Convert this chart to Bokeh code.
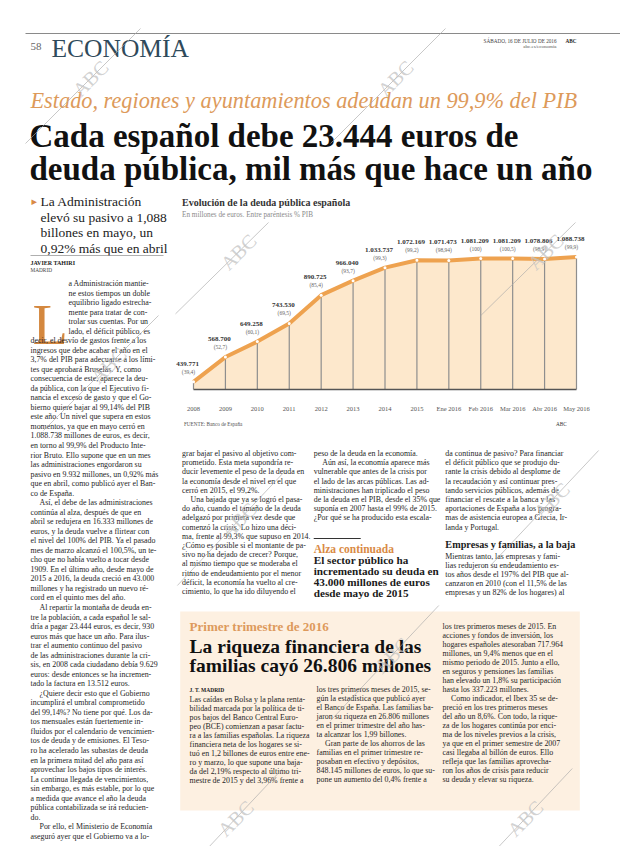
import math
from bokeh.plotting import figure
from bokeh.layouts import column, row
from bokeh.models import Range1d, FixedTicker
from bokeh.embed import file_html
from bokeh.resources import INLINE
from bokeh.core.properties import value

# ---------------- chart data ----------------
periods = ["2008", "2009", "2010", "2011", "2012", "2013", "2014", "2015",
           "Ene 2016", "Feb 2016", "Mar 2016", "Abr 2016", "May 2016"]
debt_millions = [439771, 568700, 649258, 743530, 890725, 966040, 1033737,
                 1072169, 1071473, 1081209, 1081209, 1078806, 1088738]
debt_pct_gdp = ["39,4", "52,7", "60,1", "69,5", "85,4", "93,7", "99,3",
                "99,2", "98,94", "100", "100,5", "98,9", "99,9"]

# ---------------- page texts ----------------
kicker = "Estado, regiones y ayuntamientos adeudan un 99,9% del PIB"
headline = ["Cada español debe 23.444 euros de",
            "deuda pública, mil más que hace un año"]
deck = ["La Administración", "elevó su pasivo a 1,088",
        "billones en mayo, un", "0,92% más que en abril"]
left_body = [
    "a Administración mantie-", "ne estos tiempos un doble", "equilibrio ligado estrecha-",
    "mente para tratar de con-", "trolar sus cuentas. Por un", "lado, el déficit público, es",
    "decir, el desvío de gastos frente a los", "ingresos que debe acabar el año en el",
    "3,7% del PIB para adecuarse a los lími-", "tes que aprobará Bruselas. Y, como",
    "consecuencia de este, aparece la deu-", "da pública, con la que el Ejecutivo fi-",
    "nancia el exceso de gasto y que el Go-", "bierno quiere bajar al 99,14% del PIB",
    "este año. Un nivel que supera en estos", "momentos, ya que en mayo cerró en",
    "1.088.738 millones de euros, es decir,", "en torno al 99,9% del Producto Inte-",
    "rior Bruto. Ello supone que en un mes", "las administraciones engordaron su",
    "pasivo en 9.932 millones, un 0,92% más", "que en abril, como publicó ayer el Ban-",
    "co de España.", ">Así, el debe de las administraciones",
    "continúa al alza, después de que en", "abril se redujera en 16.333 millones de",
    "euros, y la deuda vuelve a flirtear con", "el nivel del 100% del PIB. Ya el pasado",
    "mes de marzo alcanzó el 100,5%, un te-", "cho que no había vuelto a tocar desde",
    "1909. En el último año, desde mayo de", "2015 a 2016, la deuda creció en 43.000",
    "millones y ha registrado un nuevo ré-", "cord en el quinto mes del año.",
    ">Al repartir la montaña de deuda en-", "tre la población, a cada español le sal-",
    "dría a pagar 23.444 euros, es decir, 930", "euros más que hace un año. Para ilus-",
    "trar el aumento continuo del pasivo", "de las administraciones durante la cri-",
    "sis, en 2008 cada ciudadano debía 9.629", "euros: desde entonces se ha incremen-",
    "tado la factura en 13.512 euros.", ">¿Quiere decir esto que el Gobierno",
    "incumplirá el umbral comprometido", "del 99,14%? No tiene por qué. Los da-",
    "tos mensuales están fuertemente in-", "fluidos por el calendario de vencimien-",
    "tos de deuda y de emisiones. El Teso-", "ro ha acelerado las subastas de deuda",
    "en la primera mitad del año para así", "aprovechar los bajos tipos de interés.",
    "La continua llegada de vencimientos,", "sin embargo, es más estable, por lo que",
    "a medida que avance el año la deuda", "pública contabilizada se irá reducien-",
    "do.", ">Por ello, el Ministerio de Economía", "aseguró ayer que el Gobierno va a lo-"]
col_a = ["grar bajar el pasivo al objetivo com-", "prometido. Esta meta supondría re-",
         "ducir levemente el peso de la deuda en", "la economía desde el nivel en el que",
         "cerró en 2015, el 99,2%.", ">Una bajada que ya se logró el pasa-",
         "do año, cuando el tamaño de la deuda", "adelgazó por primera vez desde que",
         "comenzó la crisis. Lo hizo una déci-", "ma, frente al 99,3% que supuso en 2014.",
         "¿Cómo es posible si el montante de pa-", "sivo no ha dejado de crecer? Porque,",
         "al mismo tiempo que se moderaba el", "ritmo de endeudamiento por el menor",
         "déficit, la economía ha vuelto al cre-", "cimiento, lo que ha ido diluyendo el"]
col_b = ["peso de la deuda en la economía.", ">Aún así, la economía aparece más",
         "vulnerable que antes de la crisis por", "el lado de las arcas públicas. Las ad-",
         "ministraciones han triplicado el peso", "de la deuda en el PIB, desde el 35% que",
         "suponía en 2007 hasta el 99% de 2015.", "¿Por qué se ha producido esta escala-"]
highlight = ["El sector público ha", "incrementado su deuda en",
             "43.000 millones de euros", "desde mayo de 2015"]
col_c = ["da continua de pasivo? Para financiar", "el déficit público que se produjo du-",
         "rante la crisis debido al desplome de", "la recaudación y así continuar pres-",
         "tando servicios públicos, además de", "financiar el rescate a la banca y las",
         "aportaciones de España a los progra-", "mas de asistencia europea a Grecia, Ir-",
         "landa y Portugal."]
col_c2 = ["Mientras tanto, las empresas y fami-", "lias redujeron su endeudamiento es-",
          "tos años desde el 197% del PIB que al-", "canzaron en 2010 (con el 11,5% de las",
          "empresas y un 82% de los hogares) al"]
box_title = ["La riqueza financiera de las", "familias cayó 26.806 millones"]
box_1 = ["Las caídas en Bolsa y la plana renta-", "bilidad marcada por la política de ti-",
         "pos bajos del Banco Central Euro-", "peo (BCE) comienzan a pasar factu-",
         "ra a las familias españolas. La riqueza", "financiera neta de los hogares se si-",
         "tuó en 1,2 billones de euros entre ene-", "ro y marzo, lo que supone una baja-",
         "da del 2,19% respecto al último tri-", "mestre de 2015 y del 3,96% frente a"]
box_2 = ["los tres primeros meses de 2015, se-", "gún la estadística que publicó ayer",
         "el Banco de España. Las familias ba-", "jaron su riqueza en 26.806 millones",
         "en el primer trimestre del año has-", "ta alcanzar los 1,99 billones.",
         ">Gran parte de los ahorros de las", "familias en el primer trimestre re-",
         "posaban en efectivo y depósitos,", "848.145 millones de euros, lo que su-",
         "pone un aumento del 0,4% frente a"]
box_3 = ["los tres primeros meses de 2015. En", "acciones y fondos de inversión, los",
         "hogares españoles atesoraban 717.964", "millones, un 9,4% menos que en el",
         "mismo periodo de 2015. Junto a ello,", "en seguros y pensiones las familias",
         "han elevado un 1,8% su participación", "hasta los 337.223 millones.",
         ">Como indicador, el Ibex 35 se de-", "preció en los tres primeros meses",
         "del año un 8,6%. Con todo, la rique-", "za de los hogares continúa por enci-",
         "ma de los niveles previos a la crisis,", "ya que en el primer semestre de 2007",
         "casi llegaba al billón de euros. Ello", "refleja que las familias aprovecha-",
         "ron los años de crisis para reducir", "su deuda y elevar su riqueza."]

SERIF = "Liberation Serif"
ORANGE = "#d98a45"
INK = "#262626"


def page_fig(x0, y0, x1, y1):
    p = figure(width=x1 - x0, height=y1 - y0, x_range=Range1d(x0, x1),
               y_range=Range1d(y1, y0), output_backend="svg", toolbar_location=None,
               x_axis_type=None, y_axis_type=None, min_border=0)
    p.outline_line_color = None
    p.background_fill_color = "white"
    p.border_fill_color = "white"
    return p


def txt(p, x, y, s, size, color=INK, style="normal", align="left", font=SERIF):
    p.text(x=[x], y=[y], text=[s], text_font=value(font), text_font_size=f"{size}px",
           text_color=color, text_font_style=style, text_align=align,
           text_baseline="middle")


def block(p, x, y0, pitch, lines, size=7.9, color=INK, style="normal", indent=9):
    xs, ys, ts = [], [], []
    for i, ln in enumerate(lines):
        if ln.startswith(">"):
            xs.append(x + indent)
            ts.append(ln[1:])
        else:
            xs.append(x)
            ts.append(ln)
        ys.append(y0 + i * pitch)
    p.text(x=xs, y=ys, text=ts, text_font=value(SERIF), text_font_size=f"{size}px",
           text_color=color, text_font_style=style, text_align="left",
           text_baseline="middle")


def watermark(p, cx, cy, conv=None):
    pts = [(cx - 65, cy + 65), (cx + 50, cy - 50), (cx, cy)]
    if conv is not None:
        pts = [conv(a, b) for a, b in pts]
    (ax, ay), (bx, by), (tx, ty) = pts
    p.segment(x0=[ax], y0=[ay], x1=[bx], y1=[by],
              line_color="#a8a8a8", line_width=0.8, line_alpha=0.8)
    p.text(x=[tx], y=[ty], text=["ABC"], angle=math.pi / 4, text_font=value(SERIF),
           text_font_size="20px", text_color="#c4c4c4", text_alpha=0.75,
           text_align="center", text_baseline="middle")


# ---------------- header ----------------
hd = page_fig(0, 0, 620, 192)
hd.segment(x0=[25], y0=[33], x1=[620], y1=[33], line_color="#8a8a8a", line_width=1)
txt(hd, 30, 46, "58", 11, "#666")
txt(hd, 51, 48, "ECONOMÍA", 25.5, "#2f4a5b")
txt(hd, 556, 40, "SÁBADO, 16 DE JULIO DE 2016", 5.2, "#444", align="right")
txt(hd, 576, 40, "ABC", 5.2, "#222", style="bold", align="right")
txt(hd, 556, 46, "abc.es/economia", 5, "#555", align="right")
txt(hd, 30, 100, kicker, 22.3, "#dd9a5a", style="italic")
txt(hd, 29, 135, headline[0], 33, "#111", style="bold")
txt(hd, 29, 168, headline[1], 33, "#111", style="bold")
watermark(hd, 90, 78)
watermark(hd, 395, 78)

# ---------------- left column ----------------
lf = page_fig(0, 192, 168, 846)
txt(lf, 31, 201, "▸", 11, ORANGE, font="DejaVu Sans")
block(lf, 40, 201, 15.5, deck, size=13.5, color="#222")
lf.segment(x0=[30], y0=[255], x1=[163], y1=[255], line_color="#9a9a9a", line_width=0.8)
txt(lf, 30, 262, "JAVIER TAHIRI", 6, "#222", style="bold")
txt(lf, 30, 269, "MADRID", 5.3, "#444")
lf.text(x=[32], y=[324], text=["L"], text_font=value(SERIF), text_font_size="58px",
        text_color="#d4883f", text_align="left", text_baseline="alphabetic")
block(lf, 68, 283, 9.53, left_body[:6])
block(lf, 30, 283 + 6 * 9.53, 9.53, left_body[6:])
watermark(lf, 108, 365)

# ---------------- chart title ----------------
cth = page_fig(168, 192, 620, 222)
txt(cth, 175, 202, "Evolución de la deuda pública española", 10, "#333", style="bold")
txt(cth, 175, 214, "En millones de euros. Entre paréntesis % PIB", 7.2, "#8a8a8a")

# ---------------- chart ----------------
CH_W, CH_H = 452, 192
BL, BR, BT, BB = 7, 20, 0, 22
idx = list(range(len(periods)))
ch = figure(width=CH_W, height=CH_H, x_range=Range1d(-0.564, 12.752),
            y_range=Range1d(400000, 1268700), output_backend="svg",
            toolbar_location=None, y_axis_type=None, min_border_left=BL,
            min_border_right=BR, min_border_top=BT, min_border_bottom=BB)
ch.outline_line_color = None
ch.grid.visible = False
base = ch.y_range.start
ch.varea(x=idx, y1=[base] * len(idx), y2=debt_millions, fill_color="#fde8cc")
ch.segment(x0=idx, y0=[base] * len(idx), x1=idx, y1=debt_millions,
           line_color="#8e8e8e", line_width=1.2)
ch.line(idx, debt_millions, line_color="#eea24f", line_width=4)
ch.scatter(idx, debt_millions, size=3, fill_color="white", line_color=None)
value_labels = [f"{v:,}".replace(",", ".") for v in debt_millions]
pct_labels = [f"({v})" for v in debt_pct_gdp]
ch.text(idx, debt_millions, text=value_labels, x_offset=-6, y_offset=-18,
        text_font=value(SERIF), text_font_size="7px", text_color="#333",
        text_font_style="bold", text_align="center", text_baseline="middle")
ch.text(idx, debt_millions, text=pct_labels, x_offset=-5, y_offset=-10,
        text_font=value(SERIF), text_font_size="5.5px", text_color="#666",
        text_align="center", text_baseline="middle")
ch.xaxis.ticker = FixedTicker(ticks=idx)
ch.xaxis.major_label_overrides = {i: s for i, s in enumerate(periods)}
ch.xaxis.bounds = (0, len(idx) - 1)
ch.xaxis.axis_line_color = "#555"
ch.xaxis.axis_line_width = 1.5
ch.xaxis.major_tick_line_color = None
ch.xaxis.minor_tick_line_color = None
ch.xaxis.major_label_standoff = 9
ch.xaxis.major_label_text_font = SERIF
ch.xaxis.major_label_text_font_size = "6.5px"
ch.xaxis.major_label_text_color = "#555"

# page-pixel -> chart-data conversion (for the watermarks drawn over the chart)
CH_LEFT, CH_TOP = 168, 222
fx0, fy0 = CH_LEFT + BL, CH_TOP + BT
fw, fh = CH_W - BL - BR, CH_H - BT - BB
xr, yr = ch.x_range, ch.y_range


def to_chart(px, py):
    return (xr.start + (px - fx0) / fw * (xr.end - xr.start),
            yr.end - (py - fy0) / fh * (yr.end - yr.start))


watermark(ch, 238, 252, conv=to_chart)
watermark(ch, 545, 252, conv=to_chart)

# ---------------- chart footer ----------------
cf = page_fig(168, 414, 620, 432)
txt(cf, 177, 423, "FUENTE: Banco de España", 5.2, "#555")
txt(cf, 584, 423, "ABC", 5.2, "#333", align="right")

# ---------------- lower part ----------------
bt = page_fig(168, 432, 620, 846)
block(bt, 175, 453, 9.2, col_a)
block(bt, 315, 453, 9.2, col_b)
bt.segment(x0=[315], y0=[538], x1=[365], y1=[538], line_color="#333", line_width=1)
txt(bt, 315, 548, "Alza continuada", 11.5, ORANGE, style="bold")
block(bt, 315, 559.5, 11, highlight, size=11.2, color="#1a1a1a", style="bold")
block(bt, 455, 453, 9.2, col_c)
txt(bt, 455, 544, "Empresas y familias, a la baja", 10.2, "#1a1a1a", style="bold")
block(bt, 455, 556, 9.1, col_c2)
bt.quad(left=[173], right=[598], top=[611], bottom=[810], fill_color="#fdf0e1",
        line_color=None)
txt(bt, 183, 626, "Primer trimestre de 2016", 13, "#dd9a5c", style="bold")
block(bt, 183, 646, 19, box_title, size=19.5, color="#111", style="bold")
txt(bt, 183, 689, "J. T. MADRID", 5.5, "#222", style="bold")
block(bt, 183, 699, 9.0, box_1)
block(bt, 318, 689, 9.0, box_2)
block(bt, 452, 626, 9.0, box_3)
watermark(bt, 235, 520)
watermark(bt, 568, 500)
watermark(bt, 398, 655)
watermark(bt, 232, 818)
watermark(bt, 540, 818)

layout = column(hd, row(lf, column(cth, ch, cf, bt)))
open("out.html", "w").write(file_html(layout, INLINE))
